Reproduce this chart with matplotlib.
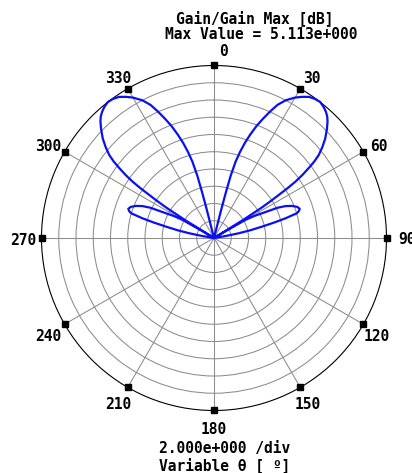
import numpy as np
import matplotlib
matplotlib.use("Agg")
import matplotlib.pyplot as plt

# Normalised gain pattern (dB relative to maximum), right lobes
theta_right = [0, 14.0, 14.3, 14.6, 15.0, 15.8, 16.8, 18.0, 19.3, 20.8,
               22.4, 24.0, 25.5, 27.5, 30.0, 32.0, 34.0, 36.0, 38.0, 40.0,
               41.6, 43.0, 44.3, 46.0, 48.2, 50.0, 51.6, 52.7, 53.6, 54.5,
               55.3, 55.9, 56.4, 57.0, 57.5, 58.2, 58.8, 59.3, 60.1, 61.3,
               62.8, 64.6, 66.0, 67.7, 69.5, 71.2, 72.5, 73.4, 74.6, 75.6,
               76.7, 78.0, 79.2, 80.3, 81.0, 180]
db_right = [-20, -20, -16.5, -14.5, -12.5, -10.8, -9.6, -8.4, -7.3, -6.1,
            -5.0, -3.9, -2.9, -2.0, -1.2, -0.7, -0.27, -0.07, 0.0, -0.2,
            -0.45, -0.75, -1.15, -1.8, -2.7, -3.6, -4.5, -5.4, -6.4, -7.4,
            -8.5, -9.7, -11.0, -12.3, -13.5, -16.0, -20, -18.5, -15.8, -14.7,
            -13.7, -11.8, -10.9, -10.2, -9.7, -9.5, -9.7, -10.0, -11.4, -12.8,
            -14.3, -15.7, -17.1, -18.6, -20, -20]

# Left lobes
theta_left = [180, 279.0, 279.7, 280.8, 282.0, 283.3, 284.4, 285.4, 286.6, 287.5,
              288.8, 290.5, 292.3, 294.0, 295.4, 297.2, 298.7, 299.9, 300.7, 301.2,
              301.8, 302.5, 303.0, 303.6, 304.1, 304.7, 305.5, 306.4, 307.3, 308.4,
              310.0, 311.8, 314.0, 315.7, 317.0, 318.4, 320.0, 322.0, 324.0, 326.0,
              328.0, 330.0, 332.5, 334.5, 336.0, 337.6, 339.2, 340.7, 342.0, 343.2,
              344.2, 345.0, 345.4, 345.7, 346.0, 360]
db_left = [-20, -20, -18.6, -17.1, -15.7, -14.3, -12.8, -11.4, -10.0, -9.7,
           -9.5, -9.7, -10.2, -10.9, -11.8, -13.7, -14.7, -15.8, -18.5, -20,
           -16.0, -13.5, -12.3, -11.0, -9.7, -8.5, -7.4, -6.4, -5.4, -4.5,
           -3.6, -2.7, -1.8, -1.15, -0.75, -0.45, -0.2, 0.0, -0.07, -0.27,
           -0.7, -1.2, -2.0, -2.9, -3.9, -5.0, -6.1, -7.3, -8.4, -9.6,
           -10.8, -12.5, -14.5, -16.5, -20, -20]

angle_ticks = [0, 30, 60, 90, 120, 150, 180, 210, 240, 270, 300, 330]
angle_labels = ["0", "30", "60", "90", "120", "150", "180", "210", "240", "270", "300", "330"]
r_min, r_max, r_step = -20, 0, 2

title_lines = ["Gain/Gain Max [dB]", "Max Value = 5.113e+000"]
footer_lines = ["2.000e+000 /div", "Variable \u03b8 [ \u00ba]"]

W, H = 412, 473
fig = plt.figure(figsize=(W / 100, H / 100), dpi=100)
fig.patch.set_facecolor("white")

cx, cy, R = 214, 238, 172.5
ax = fig.add_axes([(cx - R) / W, (H - cy - R) / H, 2 * R / W, 2 * R / H],
                  projection="polar")
ax.set_theta_zero_location("N")
ax.set_theta_direction(-1)
ax.set_ylim(r_min, r_max)

grid_col = "#8c8c8c"
ax.set_rticks(np.arange(r_min + r_step, r_max, r_step))
ax.set_thetagrids(angle_ticks, labels=[""] * len(angle_ticks))
ax.set_yticklabels([])
ax.grid(True, color=grid_col, lw=0.75)
ax.tick_params(axis="both", length=0, pad=0)
ax.spines["polar"].set_color("black")
ax.spines["polar"].set_linewidth(0.8)

th = np.deg2rad(np.array(theta_right + theta_left))
gain = np.array(db_right + db_left)
ax.plot(th, gain, color="#0a10f0", lw=1.6, zorder=4, clip_on=False)

# square markers on the outer circle at each labelled angle
ax.plot(np.deg2rad(angle_ticks), [r_max] * len(angle_ticks), "s", ms=4,
        color="black", clip_on=False, zorder=6)

font = dict(family="DejaVu Sans Mono", weight="bold", size=10.5, color="black")

label_offsets = {0: (9, 13.5), 30: (11.5, 10.3), 60: (15.6, 4.8), 90: (20.5, -2),
                 120: (13.3, -12.5), 150: (7, -17.6), 180: (-0.7, -19.5),
                 210: (-9.5, -17.6), 240: (-16.3, -12.5), 270: (-18, -2),
                 300: (-16.3, 5), 330: (-9.5, 10.3)}
for ang, lab in zip(angle_ticks, angle_labels):
    dx, dy = label_offsets[ang]
    ax.annotate(lab, xy=(np.deg2rad(ang), r_max), xytext=(dx, dy),
                textcoords="offset pixels", ha="center", va="center",
                annotation_clip=False, **font)


def fig_text(x, y, s):
    fig.text(x / W, 1 - y / H, s, ha="center", va="center", **font)


fig_text(255, 18, title_lines[0])
fig_text(261, 34.5, title_lines[1])
fig_text(225, 448, footer_lines[0])
fig_text(225, 465.5, footer_lines[1])

fig.savefig("out.png", dpi=100, facecolor="white")
